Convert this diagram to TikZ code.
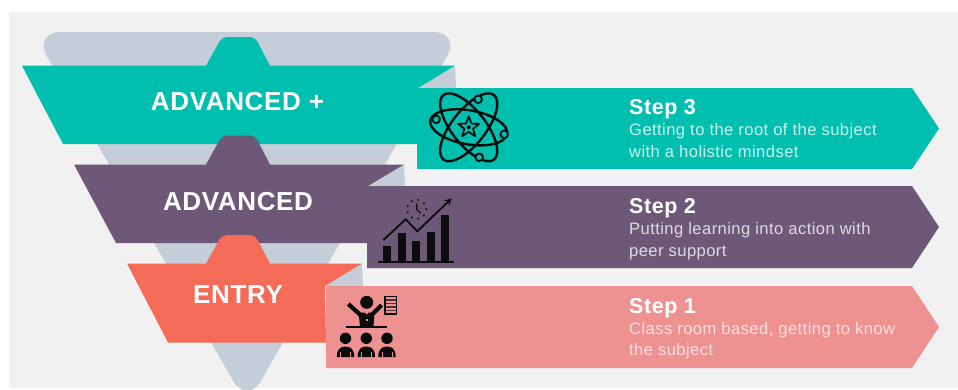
\documentclass[tikz,border=0pt]{standalone}
\usepackage{fontspec}
\setmainfont{Liberation Sans}
\newfontfamily\headfont[LetterSpace=2.5]{Liberation Sans}
\usetikzlibrary{arrows.meta}
\definecolor{teal1}{HTML}{00BFAE}
\definecolor{purp1}{HTML}{6D5878}
\definecolor{coral1}{HTML}{F46B58}
\definecolor{pink1}{HTML}{EE9291}
\definecolor{grey1}{HTML}{C5CED8}
\definecolor{bg1}{HTML}{F1F1F1}
\definecolor{ink1}{HTML}{0C0C0C}
\tikzset{
 level/.style={font=\headfont\bfseries\fontsize{26}{30}\selectfont,text=white,inner sep=0pt},
 steptitle/.style={font=\headfont\bfseries\fontsize{21.5}{24}\selectfont,text=white,anchor=base west,inner sep=0pt},
 stepbody/.style={font=\headfont\fontsize{16.6}{21.5}\selectfont,anchor=base west,align=left,inner sep=0pt},
 iconline/.style={draw=ink1,line width=2.4pt,line join=round},
}
\begin{document}
\begin{tikzpicture}[x=1pt,y=-1pt]
\useasboundingbox (0,0) rectangle (958,389);
\fill[white] (0,0) rectangle (958,389);
\fill[bg1] (9,12) rectangle (958,388);
% funnel
\begin{scope}
\clip (0,0) rectangle (958,389);
\fill[grey1,rounded corners=28pt] (33,32) -- (461,32) -- (247,405) -- cycle;
\end{scope}
% folds
\fill[grey1] (455,66) -- (456,88) -- (418,88) -- cycle;
\fill[grey1] (404,164.5) -- (405,186) -- (368,186) -- cycle;
\fill[grey1] (362,263) -- (363,286) -- (325,286) -- cycle;
% teal
\fill[teal1] (22,65.7) -- (206,65.7) [rounded corners=5pt] -- (222,37) -- (255,37) [sharp corners] -- (270,65.7) -- (455,65.7) -- (418,88) -- (417,144) -- (63,144) -- cycle;
\fill[teal1] (417,88) -- (912,88) -- (939,128.5) -- (912,169) -- (417,169) -- cycle;
% purple
\fill[purp1] (74,164.5) -- (206,164.5) [rounded corners=5pt] -- (222,135.5) -- (255,135.5) [sharp corners] -- (270,164.5) -- (404,164.5) -- (368,186) -- (367,243) -- (116,243) -- cycle;
\fill[purp1] (367,186) -- (912,186) -- (939,227) -- (912,268) -- (367,268) -- cycle;
% entry
\fill[coral1] (127,263.5) -- (206,263.5) [rounded corners=5pt] -- (222,235) -- (255,235) [sharp corners] -- (270,263.5) -- (362,263.5) -- (325,286) -- (326,342.5) -- (168,342.5) -- cycle;
\fill[pink1] (326,286) -- (912,286) -- (939,327) -- (912,368) -- (326,368) -- cycle;
% labels
\node[level] (advp) at (237.5,102) {ADVANCED +};
\node[level] (adv) at (238,202) {ADVANCED};
\node[level] (ent) at (238,295) {ENTRY};
\node[steptitle] (s3) at (629,114.5) {Step 3};
\node[stepbody,text=white!78!teal1] (b3) at (629,157) {Getting to the root of the subject\\with a holistic mindset};
\node[steptitle] (s2) at (629,213.5) {Step 2};
\node[stepbody,text=white!78!purp1] (b2) at (629,256) {Putting learning into action with\\peer support};
\node[steptitle] (s1) at (629,313.5) {Step 1};
\node[stepbody,text=white!70!pink1] (b1) at (629,355.5) {Class room based, getting to know\\the subject};
% atom icon
\begin{scope}[shift={(468.7,127.3)}]
\draw[iconline] (0,0) ellipse [x radius=39pt,y radius=17pt,rotate=-10];
\draw[iconline] (0,0) ellipse [x radius=41pt,y radius=17pt,rotate=52];
\draw[iconline] (0,0) ellipse [x radius=41pt,y radius=17pt,rotate=-52];
\draw[iconline,line width=1.7pt] (-90:11) -- (-54:4.6) -- (-18:11) -- (18:4.6) -- (54:11) -- (90:4.6) -- (126:11) -- (162:4.6) -- (198:11) -- (234:4.6) -- cycle;
\fill[ink1] (0,0) circle (2pt);
\foreach \x/\y in {-32.5/-8,35.5/7,9.5/-28,10.5/30}
  \filldraw[draw=ink1,fill=teal1,line width=1.8pt] (\x,\y) circle (3.8pt);
\end{scope}
% chart icon
\fill[ink1] (378.3,260.8) rectangle (454.3,262.8);
\foreach \x/\t in {383.3/245.7,397.7/232.7,412.3/241,426.7/232.3,441.3/215}
  \fill[ink1] (\x,\t) rectangle (\x+8,261);
\draw[ink1,line width=1.8pt,-{Stealth[length=7pt,width=7pt]}] (383.3,240) -- (405.7,219.3) -- (417.3,231.3) -- (451.7,198.3);
\begin{scope}[shift={(416.7,209.3)}]
\foreach \a in {0,40,...,320}
  \fill[ink1] (\a:9.5) circle (1.1pt);
\draw[ink1,line width=1.1pt] (0,-6) -- (0,0) -- (3.8,3.7);
\end{scope}
% teacher icon
\fill[ink1] (366.7,302.3) circle (6.5pt);
\draw[ink1,line width=4.2pt] (348.3,304) -- (360.5,315);
\draw[ink1,line width=4.2pt] (381.7,305) -- (371.7,315);
\fill[ink1] (358.5,312.5) -- (374.5,312.5) -- (373.5,326) -- (360,326) -- cycle;
\fill[pink1] (363.3,310.7) -- (370,310.7) -- (366.7,314.5) -- cycle;
\fill[pink1] (366,319) rectangle (367.5,321);
\fill[ink1] (345.7,325.7) rectangle (387.3,327.7);
\draw[ink1,line width=1.5pt] (385,296.5) rectangle (396.5,314);
\foreach \y in {300,303.5,307,310.5}
  \draw[ink1!70!pink1,line width=1.5pt] (386,\y) -- (395.5,\y);
\foreach \x in {345.5,366.3,387}{
  \fill[ink1] (\x,338.3) circle (5.7pt);
  \fill[ink1] (\x-8.7,357) .. controls (\x-8.7,349) and (\x-5,346.5) .. (\x,346.5) .. controls (\x+5,346.5) and (\x+8.7,349) .. (\x+8.7,357) -- cycle;
  \draw[pink1,line width=.8pt] (\x-5,351.5) -- (\x-5,357);
  \draw[pink1,line width=.8pt] (\x+5,351.5) -- (\x+5,357);
}
\end{tikzpicture}
\end{document}
